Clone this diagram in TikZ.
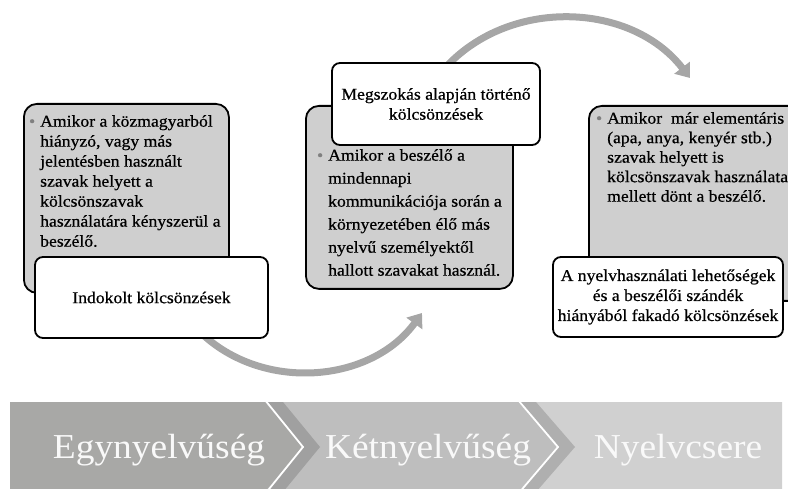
\documentclass[tikz,border=0pt]{standalone}
\usepackage{fontspec}
\setmainfont{Liberation Serif}[FakeStretch=1.07]
\newfontfamily\boxfam{Liberation Serif}[FakeStretch=1.07,FakeBold=0.6]
\usetikzlibrary{arrows.meta}
\definecolor{boxgray}{RGB}{207,207,207}
\definecolor{arrgray}{RGB}{166,166,166}
\definecolor{segA}{RGB}{168,168,166}
\definecolor{segB}{RGB}{190,190,190}
\definecolor{segC}{RGB}{208,208,208}
\definecolor{wedgeB}{RGB}{160,160,160}
\definecolor{wedgeC}{RGB}{175,175,175}
\newcommand{\mybul}{\llap{\textcolor{gray}{\textbullet}\hspace{5pt}}}
\newcommand{\boxfont}{\boxfam\fontsize{16.5}{20}\selectfont}
\begin{document}
\begin{tikzpicture}[x=1pt,y=1pt,
 graybox/.style={draw=black, line width=1.8pt, fill=boxgray, rounded corners=13pt, anchor=north west, inner sep=0},
 whitebox/.style={draw=black, line width=1.8pt, fill=white, rounded corners=8pt, anchor=center, inner sep=0, align=center, font=\boxfont},
 bodytext/.style={anchor=north west, inner sep=0, align=left, text=black},
 flow/.style={draw=arrgray, line width=7pt, -{Triangle[width=19pt,length=13pt]}},
 bantext/.style={text=white!95!gray, font=\fontsize{35}{40}\selectfont, anchor=base}
]
\useasboundingbox (0,0) rectangle (788,-489);
\begin{scope}
\clip (0,0) rectangle (788,-489);
% banner
\fill[segA] (10,-402) -- (265,-402) -- (303,-447) -- (265,-492) -- (10,-492) -- cycle;
\fill[segB] (265,-402) -- (518,-402) -- (558,-447) -- (518,-492) -- (265,-492) -- (303,-447) -- cycle;
\fill[segC] (518,-402) -- (782,-402) -- (782,-492) -- (518,-492) -- (558,-447) -- cycle;
\fill[wedgeB] (265,-402) -- (283,-402) -- (320,-447) -- (283,-492) -- (265,-492) -- (303,-447) -- cycle;
\fill[wedgeC] (518,-402) -- (536,-402) -- (575,-447) -- (536,-492) -- (518,-492) -- (558,-447) -- cycle;
\draw[white, line width=1.8pt] (265,-400) -- (303,-447) -- (265,-494);
\draw[white, line width=1.8pt] (518,-400) -- (558,-447) -- (518,-494);
\node[bantext] (t1) at (159,-458) {Egynyelvűség};
\node[bantext] (t2) at (428,-458) {Kétnyelvűség};
\node[bantext] (t3) at (678,-458) {Nyelvcsere};
% arrows
\coordinate (a1s) at (200,-332);
\coordinate (a1e) at (422,-313);
\draw[flow] (a1s) to[bend right=49] (a1e);
\coordinate (a2s) at (445,-68);
\coordinate (a2e) at (690,-78);
\draw[flow] (a2s) to[bend left=50] (a2e);
% left
\node[graybox, minimum width=205pt, minimum height=189pt] (g1) at (23,-103) {};
\node[bodytext, font=\boxfam\fontsize{16.5}{20}\selectfont] (x1) at (40,-115)
 {\mybul Amikor a közmagyarból\\hiányzó, vagy más\\jelentésben használt\\szavak helyett a\\kölcsönszavak\\használatára kényszerül a\\beszélő.};
\node[whitebox, minimum width=233pt, minimum height=81pt] (w1) at (151.5,-297.5) {Indokolt kölcsönzések};
% middle
\node[graybox, minimum width=207pt, minimum height=183pt] (g2) at (305,-105) {};
\node[bodytext, font=\boxfam\fontsize{16.5}{23}\selectfont] (x2) at (328,-149)
 {\mybul Amikor a beszélő a\\mindennapi\\kommunikációja során a\\környezetében élő más\\nyelvű személyektől\\hallott szavakat használ.};
\node[whitebox, minimum width=208pt, minimum height=82pt] (w2) at (436,-104) {Megszokás alapján történő\\kölcsönzések};
% right
\node[graybox, minimum width=215pt, minimum height=195pt] (g3) at (588,-105) {};
\node[bodytext, font=\boxfam\fontsize{16.5}{19.5}\selectfont] (x3) at (607,-112)
 {\mybul Amikor~ már elementáris\\(apa, anya, kenyér stb.)\\szavak helyett is\\kölcsönszavak használata\\mellett dönt a beszélő.};
\node[whitebox, minimum width=230pt, minimum height=80pt] (w3) at (668,-297) {A nyelvhasználati lehetőségek\\és a beszélői szándék\\hiányából fakadó kölcsönzések};
\end{scope}
\end{tikzpicture}
\end{document}
